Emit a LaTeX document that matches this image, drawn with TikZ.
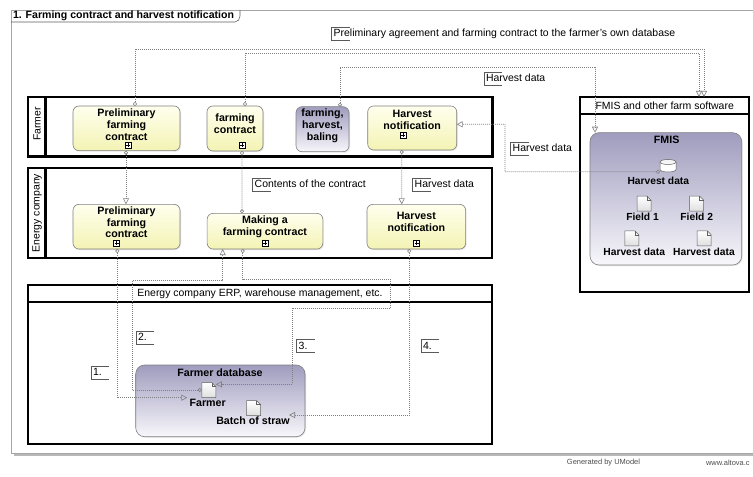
\documentclass[tikz,border=0pt]{standalone}
\usepackage{fontspec}
\setmainfont{Liberation Sans}
\usetikzlibrary{arrows.meta,shadows}
\definecolor{depc}{RGB}{128,128,128}
\definecolor{ytop}{RGB}{255,255,238}
\definecolor{ybot}{RGB}{243,243,180}
\definecolor{ptop}{RGB}{160,156,190}
\definecolor{pbot}{RGB}{247,247,251}
\definecolor{framec}{RGB}{165,165,165}
\newcommand\mydoc[1]{\begin{scope}[shift={(#1.center)}]
  \draw[gray!75!black, line width=0.5bp, top color=white, bottom color=gray!25] (-7,-7.5) -- (3,-7.5) -- (7,-3.5) -- (7,7.5) -- (-7,7.5) -- cycle;
  \draw[gray!75!black, line width=0.5bp] (3,-7.5) -- (3,-3.5) -- (7,-3.5);
\end{scope}}
\newcommand\plusat[1]{\begin{scope}[shift={#1}]
  \draw[black, line width=0.5bp, fill=white] (-3,-3) rectangle (3,3);
  \draw[black, line width=0.5bp] (-2,0) -- (2,0) (0,-2) -- (0,2);
\end{scope}}
\newcommand\brk[1]{\draw[gray!70!black, line width=0.5bp] ([xshift=18bp]#1.north west) -- (#1.north west) -- (#1.south west) -- ([xshift=18bp]#1.south west);}
\begin{document}
\begin{tikzpicture}[x=1bp,y=-1bp,
  every node/.style={font=\fontsize{10.5}{12}\selectfont, inner sep=0pt, outer sep=0pt},
  btxt/.style={font=\fontsize{10.7}{12}\selectfont\bfseries, align=center},
  stxt/.style={font=\fontsize{10.3}{12}\selectfont\bfseries, align=center},
  lbl/.style={anchor=west, inner xsep=2bp, inner ysep=1bp, text height=8.5bp, text depth=2.5bp},
  ybox/.style={draw=gray, line width=0.6bp, rounded corners=6bp, top color=ytop, bottom color=ybot,
    drop shadow={shadow xshift=1bp, shadow yshift=-1bp, fill=black!20}},
  pbx/.style={draw=gray, line width=0.6bp, rounded corners=7bp, top color=ptop, bottom color=pbot,
    drop shadow={shadow xshift=1bp, shadow yshift=-1bp, fill=black!20}},
  lanebox/.style={draw=black, line width=2.2bp},
  dep/.style={draw=depc, line width=0.6bp, dash pattern=on 1bp off 1bp},
  ct/.style={{Circle[open,length=4bp,width=4bp]}-{Triangle[open,length=6bp,width=6bp]}},
  cc/.style={{Circle[open,length=4bp,width=4bp]}-{Circle[open,length=4bp,width=4bp]}}
]
\useasboundingbox (0,0) rectangle (753,477);
% outer frame
\fill[black!28] (14,13) rectangle (770,456);
\draw[framec, line width=0.8bp, fill=white] (11,10) rectangle (770,453);
\draw[gray!75!black, line width=0.6bp] (11,22) -- (235,22) .. controls (238,22) and (240,19) .. (240,16) -- (240,10);
\node[anchor=west, font=\fontsize{10.6}{12}\selectfont\bfseries] (title) at (13,16) {1. Farming contract and harvest notification};
% footer
\node[font=\fontsize{7.5}{9}\selectfont, text=gray!60!black] (gen) at (603.5,463) {Generated by UModel};
\node[anchor=west, font=\fontsize{7.5}{9}\selectfont, text=gray!60!black] (web) at (706,463) {www.altova.c};

% lanes
\node[lanebox, minimum width=464.5bp, minimum height=59.5bp] (farmerlane) at (260.25,126.75) {};
\draw[lanebox] (45.5,97) -- (45.5,156.5);
\node[rotate=90] (farmerlbl) at (37,124) {Farmer};
\node[lanebox, minimum width=464bp, minimum height=89.4bp] (energylane) at (260,213) {};
\draw[lanebox] (45.5,168.3) -- (45.5,257.7);
\node[rotate=90] (energylbl) at (37,213) {Energy company};
\node[lanebox, minimum width=464bp, minimum height=159bp] (erp) at (260,364.5) {};
\draw[lanebox] (28,302) -- (492,302);
\node (erplbl) at (260,293.5) {Energy company ERP, warehouse management, etc.};
\node[lanebox, minimum width=169bp, minimum height=194.7bp] (fmisc) at (664.5,194.35) {};
\draw[lanebox] (580,114) -- (749,114);
\node[anchor=west] (fmisclbl) at (595.5,105.5) {FMIS and other farm software};

% farmer lane nodes
\node[ybox, minimum width=107bp, minimum height=44.7bp] (fPre) at (126.5,128.35) {};
\node[btxt] (fPreT) at (126.5,125) {Preliminary\\farming\\contract};
\plusat{(128,145)}
\node[ybox, minimum width=56bp, minimum height=45bp] (fFarm) at (235,128.5) {};
\node[btxt] (fFarmT) at (235,124) {farming\\contract};
\plusat{(242.3,145)}
\node[pbx, rounded corners=6bp, minimum width=53bp, minimum height=45bp] (fBal) at (322.5,129.2) {};
\node[btxt] (fBalT) at (322.5,125.5) {farming,\\harvest,\\baling};
\node[ybox, minimum width=89bp, minimum height=44bp] (fHarv) at (412.2,128) {};
\node[btxt] (fHarvT) at (412.2,119.7) {Harvest\\notification};
\plusat{(403.3,135)}

% energy lane nodes
\node[ybox, minimum width=107bp, minimum height=44.7bp] (ePre) at (126.5,226.7) {};
\node[btxt] (ePreT) at (126.5,222.2) {Preliminary\\farming\\contract};
\plusat{(116.7,243.3)}
\node[ybox, minimum width=115.7bp, minimum height=35.7bp] (eMake) at (265,231.2) {};
\node[btxt] (eMakeT) at (265,227) {Making a\\farming contract};
\plusat{(265,243.3)}
\node[ybox, minimum width=98.7bp, minimum height=44.7bp] (eHarv) at (416.3,226.7) {};
\node[btxt] (eHarvT) at (416.3,222.2) {Harvest\\notification};
\plusat{(416.7,243.3)}

% FMIS inner
\node[pbx, rounded corners=9bp, minimum width=151.7bp, minimum height=132.3bp] (fmis) at (665.85,198.85) {};
\node[btxt] (fmisT) at (666.7,139.5) {FMIS};
\node[minimum width=16bp, minimum height=12.5bp] (cyl) at (668,165.5) {};
\begin{scope}[shift={(cyl.center)}, gray!75!black, line width=0.5bp]
  \fill[white] (-8,-3.5) rectangle (8,4);
  \fill[white] (0,4) ellipse [x radius=8, y radius=2.5];
  \draw (-8,-3.5) -- (-8,4) arc[start angle=180, end angle=0, x radius=8, y radius=2.5] -- (8,-3.5);
  \draw[fill=gray!8] (0,-3.5) ellipse [x radius=8, y radius=2.5];
\end{scope}
\node[stxt] (cylT) at (658.3,180.7) {Harvest data};
\node[minimum width=14bp, minimum height=15bp] (doc1) at (644,203.7) {};
\mydoc{doc1}
\node[stxt] (doc1T) at (642.5,216.7) {Field 1};
\node[minimum width=14bp, minimum height=15bp] (doc2) at (696.7,203.7) {};
\mydoc{doc2}
\node[stxt] (doc2T) at (696.7,216.7) {Field 2};
\node[minimum width=14bp, minimum height=15bp] (doc3) at (631.8,238.3) {};
\mydoc{doc3}
\node[stxt] (doc3T) at (634.2,252.3) {Harvest data};
\node[minimum width=14bp, minimum height=15bp] (doc4) at (704.2,238.3) {};
\mydoc{doc4}
\node[stxt] (doc4T) at (704,252.3) {Harvest data};

% farmer database
\node[pbx, rounded corners=9bp, minimum width=169.3bp, minimum height=71.7bp] (fdb) at (220.35,400.85) {};
\node[btxt] (fdbT) at (220,372.5) {Farmer database};
\node[minimum width=14bp, minimum height=15bp] (fdoc) at (208.8,390) {};
\mydoc{fdoc}
\node[btxt] (fdocT) at (207.7,403.3) {Farmer};
\node[minimum width=14bp, minimum height=15bp] (bdoc) at (253.7,408.2) {};
\mydoc{bdoc}
\node[btxt] (bdocT) at (253,421) {Batch of straw};
\coordinate (farmerin) at (187.3,397.7);
\coordinate (batchin) at (289,415);

% connectors
\draw[dep,ct] ([xshift=8.5bp]fPre.north) -- ++(0,-56.7) -| ([xshift=39.5bp]fmisc.north);
\draw[dep,ct] ([xshift=10bp]fFarm.north) -- ++(0,-52.7) -| ([xshift=34.5bp]fmisc.north);
\draw[dep,ct] ([xshift=17.5bp]fBal.north) -- ++(0,-39.4) -| ([xshift=-70.85bp]fmis.north);
\draw[dep,ct] (cyl.south west) -- (505,171.75) |- ([yshift=3.7bp]fHarv.east);
\draw[dep,ct] ([xshift=-0.5bp]fPre.south) -- ([xshift=-0.5bp]ePre.north);
\draw[dep,cc] ([xshift=7bp]fFarm.south) -- ([xshift=-23bp]eMake.north);
\draw[dep,ct] ([xshift=-10.5bp]fHarv.south) -- ([xshift=-14.6bp]eHarv.north);
\draw[dep,ct] ([xshift=-9.2bp]ePre.south) |- (farmerin);
\draw[dep,ct] (fdoc.west) -| (132.3,280) -| ([xshift=-42.3bp]eMake.south);
\draw[dep,ct] ([xshift=-22.3bp]eMake.south) |- (390.7,279) |- (292.3,308.3) |- ([yshift=5.7bp]fdoc.east);
\draw[dep,ct] ([xshift=-7bp]eHarv.south) |- (batchin);

% connector labels
\node[lbl] (l1) at (331.7,33.3) {Preliminary agreement and farming contract to the farmer's own database}; \brk{l1}
\node[lbl] (l2) at (484,79) {Harvest data}; \brk{l2}
\node[lbl] (l3) at (510.7,148.5) {Harvest data}; \brk{l3}
\node[lbl] (l4) at (252.7,184.3) {Contents of the contract}; \brk{l4}
\node[lbl] (l5) at (412.7,185) {Harvest data}; \brk{l5}
\node[lbl] (n1) at (91,372.7) {1.}; \brk{n1}
\node[lbl] (n2) at (136,337.3) {2.}; \brk{n2}
\node[lbl] (n3) at (296.7,346) {3.}; \brk{n3}
\node[lbl] (n4) at (421,346) {4.}; \brk{n4}
\end{tikzpicture}
\end{document}
